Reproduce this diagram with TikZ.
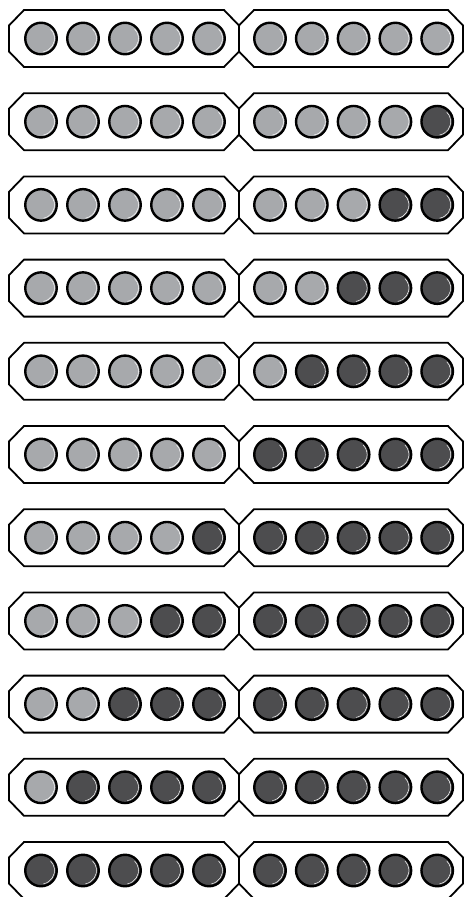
\documentclass[tikz,border=0pt]{standalone}
\definecolor{lightdot}{HTML}{A7A9AC}
\definecolor{darkdot}{HTML}{4D4D4F}
\begin{document}
\begin{tikzpicture}[x=1pt,y=-1pt,
  framebox/.style={draw=black,line width=1.8pt,line join=miter,fill=white},
  dot/.style={circle,draw=black,line width=2.4pt,minimum size=31.5pt,inner sep=0pt},
  shine/.style={draw=white,line width=0.5pt}]
\useasboundingbox (0,0) rectangle (467,897);
\foreach \r in {0,...,10} {
  \pgfmathsetmacro\yc{38.5+83.2*\r}
  \draw[framebox] (24,\yc-28.5) -- (224,\yc-28.5) -- (239,\yc-13) -- (239,\yc+13) -- (224,\yc+28.5) -- (24,\yc+28.5) -- (9,\yc+13) -- (9,\yc-13) -- cycle;
  \draw[framebox] (254,\yc-28.5) -- (448,\yc-28.5) -- (463,\yc-13) -- (463,\yc+13) -- (448,\yc+28.5) -- (254,\yc+28.5) -- (239,\yc+13) -- (239,\yc-13) -- cycle;
  \foreach \k in {0,...,9} {
    \pgfmathsetmacro\xc{\k<5 ? 41+42*\k : 270+41.8*(\k-5)}
    \pgfmathtruncatemacro\isdark{\k>=10-\r ? 1 : 0}
    \ifnum\isdark=1
      \node[dot,fill=darkdot] (d-\r-\k) at (\xc,\yc) {};
    \else
      \node[dot,fill=lightdot] (d-\r-\k) at (\xc,\yc) {};
    \fi
    \draw[shine] (d-\r-\k.center) ++(-80:13.5pt) arc[start angle=-80,end angle=45,radius=13.5pt];
  }
}
\end{tikzpicture}
\end{document}
